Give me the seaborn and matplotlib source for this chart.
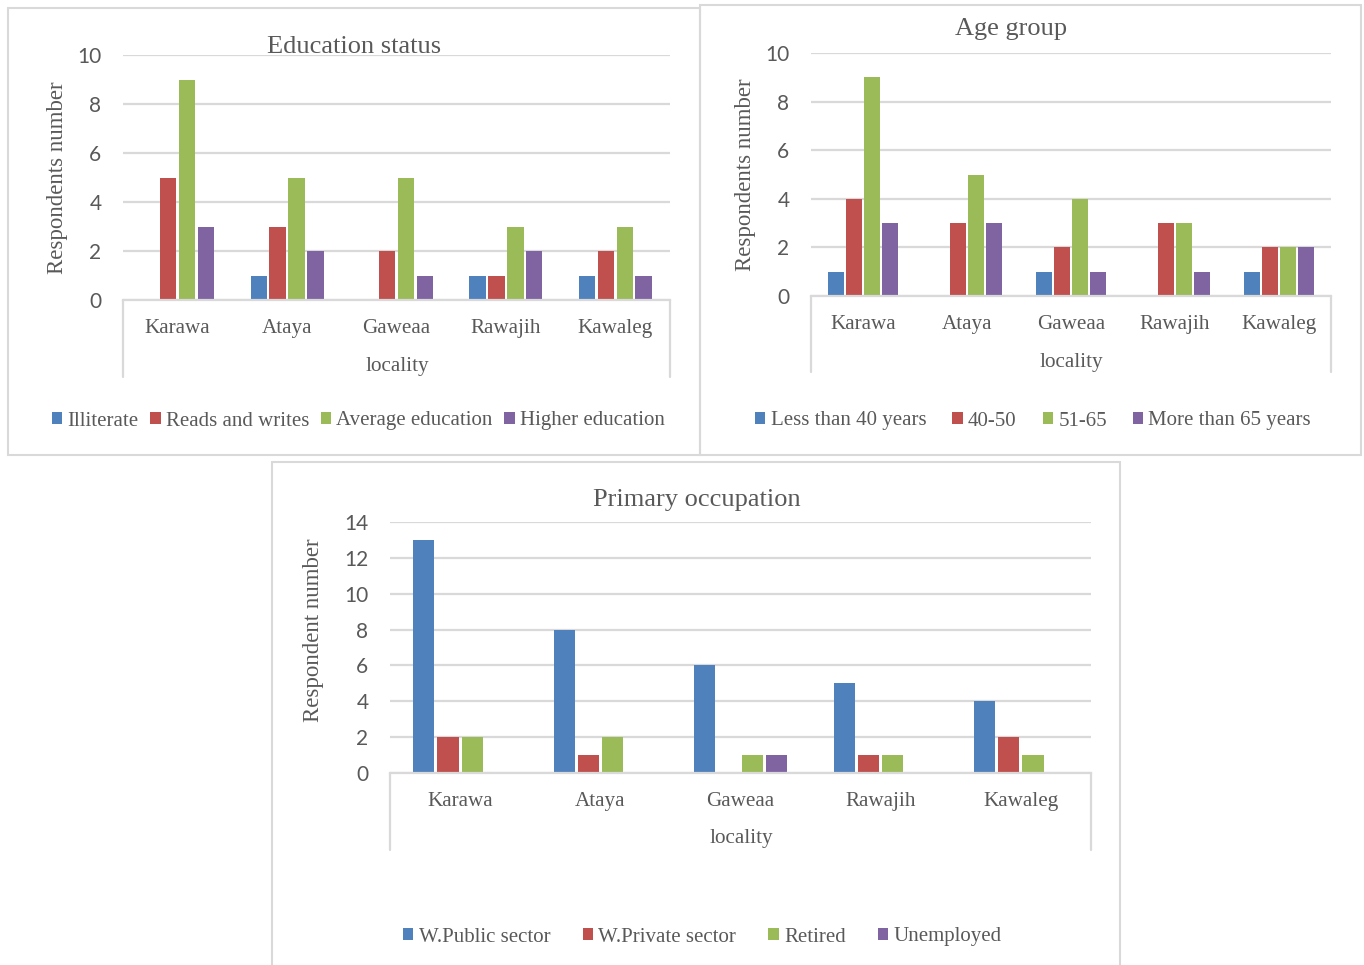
import matplotlib
matplotlib.use("Agg")
import matplotlib.pyplot as plt
from matplotlib.patches import Rectangle
import seaborn as sns
import pandas as pd

# ---------------- data ----------------
localities = ["Karawa", "Ataya", "Gaweaa", "Rawajih", "Kawaleg"]

edu_groups = ["Illiterate", "Reads and writes", "Average education", "Higher education"]
edu_illiterate = [0, 1, 0, 1, 1]
edu_reads = [5, 3, 2, 1, 2]
edu_average = [9, 5, 5, 3, 3]
edu_higher = [3, 2, 1, 2, 1]

age_groups = ["Less than 40 years", "40-50", "51-65", "More than 65 years"]
age_lt40 = [1, 0, 1, 0, 1]
age_40_50 = [4, 3, 2, 3, 2]
age_51_65 = [9, 5, 4, 3, 2]
age_gt65 = [3, 3, 1, 1, 2]

occ_groups = ["W.Public sector", "W.Private sector", "Retired", "Unemployed"]
occ_public = [13, 8, 6, 5, 4]
occ_private = [2, 1, 0, 1, 2]
occ_retired = [2, 2, 1, 1, 1]
occ_unemployed = [0, 0, 1, 0, 0]

edu_ticks = [0, 2, 4, 6, 8, 10]
age_ticks = [0, 2, 4, 6, 8, 10]
occ_ticks = [0, 2, 4, 6, 8, 10, 12, 14]

colors = ["#4F81BD", "#C0504D", "#9BBB59", "#8064A2"]

# ---------------- style ----------------
sns.set_style("white")
plt.rcParams["font.family"] = ["Liberation Serif", "DejaVu Serif"]
TXT = "#595959"
GRID = "#D9D9D9"
SERIF = "Liberation Serif"
SANS = "Lato"

W, H = 1364, 965
fig = plt.figure(figsize=(W / 100, H / 100), dpi=100)
fig.patch.set_facecolor("white")


def long_df(groups, series):
    rows = []
    for g, vals in zip(groups, series):
        for loc, v in zip(localities, vals):
            rows.append({"locality": loc, "group": g, "count": v})
    return pd.DataFrame(rows)


def px_axes(l, r, t, b):
    return fig.add_axes([l / W, 1 - b / H, (r - l) / W, (b - t) / H])


def panel(box, groups, series, ticks, title, ylabel, title_px, ylabel_px,
          loc_px, div_px, leg_px, colspace):
    l, r, t, b = box
    ax = px_axes(l, r, t, b)
    df = long_df(groups, series)
    sns.barplot(data=df, x="locality", y="count", hue="group", hue_order=groups,
                order=localities, palette=colors, width=0.69, gap=0.13,
                saturation=1, linewidth=0, ax=ax, errorbar=None)
    ax.set_ylim(ticks[0], ticks[-1])
    ax.set_xlim(-0.5, len(localities) - 0.5)
    ax.set_yticks(ticks)
    ax.yaxis.grid(True, color=GRID, lw=1.6)
    ax.set_axisbelow(True)
    for s in ["top", "right", "left"]:
        ax.spines[s].set_visible(False)
    ax.spines["bottom"].set_color(GRID)
    ax.spines["bottom"].set_linewidth(1.6)
    ax.tick_params(axis="y", length=0, pad=15.5, labelsize=15, labelcolor=TXT)
    ax.tick_params(axis="x", length=0, pad=13.5, labelsize=15.2, labelcolor=TXT)
    for lab in ax.get_yticklabels():
        lab.set_fontfamily(SANS)
    for lab in ax.get_xticklabels():
        lab.set_fontfamily(SERIF)
    ax.set_xlabel("")
    ax.set_ylabel("")
    h = b - t
    w = r - l
    # title
    ax.text((title_px[0] - l) / w, 1 + (t - title_px[1]) / h, title,
            transform=ax.transAxes, ha="center", va="center", fontsize=19,
            color=TXT, family=SERIF)
    # y label
    ax.text((ylabel_px[0] - l) / w, (b - ylabel_px[1]) / h, ylabel,
            transform=ax.transAxes, ha="center", va="center", rotation=90,
            fontsize=16.5, color=TXT, family=SERIF)
    # outer category label
    ax.text((loc_px[0] - l) / w, (b - loc_px[1]) / h, "locality",
            transform=ax.transAxes, ha="center", va="center", fontsize=15.2,
            color=TXT, family=SERIF)
    # outer category dividers
    yb = (b - div_px) / h
    for xa in (0, 1):
        ax.plot([xa, xa], [0, yb], transform=ax.transAxes, color=GRID,
                lw=1.6, clip_on=False)
    # legend
    handles, labels = ax.get_legend_handles_labels()
    ax.legend(handles, labels, loc="center left",
              bbox_to_anchor=(leg_px[0] / W, 1 - leg_px[1] / H),
              bbox_transform=fig.transFigure, ncol=4, frameon=False,
              borderaxespad=0, borderpad=0, handlelength=0.5,
              handleheight=0.5, handletextpad=0.25, columnspacing=colspace,
              prop={"family": SERIF, "size": 15}, labelcolor=TXT)
    return ax


panel((123, 670, 55, 300), edu_groups,
      [edu_illiterate, edu_reads, edu_average, edu_higher], edu_ticks,
      "Education status", "Respondents number",
      (354, 47), (57, 178), (397, 366), 377, (52, 421), 0.55)

panel((811, 1331, 53, 296), age_groups,
      [age_lt40, age_40_50, age_51_65, age_gt65], age_ticks,
      "Age group", "Respondents number",
      (1011, 29), (745, 175), (1071, 362), 372, (755, 421), 1.25)

panel((390, 1091, 522, 773), occ_groups,
      [occ_public, occ_private, occ_retired, occ_unemployed], occ_ticks,
      "Primary occupation", "Respondent number",
      (697, 500), (313, 630), (741, 839), 850, (403, 937), 1.55)

# panel borders
for (x0, y0, x1, y1) in [(8, 8, 700, 455), (700, 5, 1361, 455), (272, 462, 1120, 975)]:
    fig.patches.append(Rectangle((x0 / W, 1 - y1 / H), (x1 - x0) / W, (y1 - y0) / H,
                                 transform=fig.transFigure, fill=False,
                                 edgecolor=GRID, lw=1.5, zorder=0))

fig.savefig("out.png", dpi=100, facecolor="white")
